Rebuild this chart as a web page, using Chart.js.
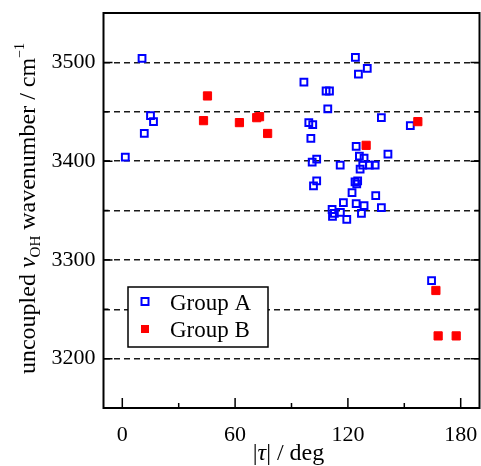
<!DOCTYPE html>
<html>
<head>
<meta charset="utf-8">
<script src="https://cdn.jsdelivr.net/npm/chart.js@4.4.0/dist/chart.umd.min.js"></script>
<style>
html, body { margin: 0; padding: 0; background: #fff; }
</style>
</head>
<body>
<canvas id="chart" width="481" height="466"></canvas>
<script>
// |tau| in degrees and uncoupled OH wavenumber in cm^-1
const groupATau = [10.5, 15, 16.6, 11.7, 1.6, 124, 125.6, 130.3, 96.6, 108.4, 110.2, 109.3, 137.8, 153.2, 99.2,
    101.3, 100.3, 124.4, 141.3, 126.1, 128.6, 103.4, 101, 115.9, 127.9, 131.4, 134.5, 126.5, 103.4, 101.7,
    125.2, 123.8, 124.7, 122.2, 134.8, 117.6, 124.4, 128.6, 137.8, 111.6, 112.8, 111.8, 116, 127.2, 119.4, 164.5];
const groupAFreq = [3504, 3446, 3440, 3428, 3404, 3505, 3488, 3494, 3480, 3471, 3471, 3453, 3444, 3436, 3439,
    3437, 3423, 3415, 3407, 3405, 3403, 3402, 3399, 3396, 3396, 3396, 3396, 3392, 3380, 3375,
    3380, 3379, 3377, 3368, 3365, 3358, 3357, 3355, 3353, 3351, 3347, 3344, 3348, 3347, 3341, 3279];

const groupBTau = [45.3, 43.2, 62.3, 71.5, 73, 77.3, 129.7, 157.2, 166.8, 168, 177.6];
const groupBFreq = [3466, 3441, 3439, 3444, 3445, 3428, 3416, 3440, 3269, 3223, 3223];

const xTickLabels = [0, 60, 120, 180];
const xMinorTicks = [30, 90, 150];
const yTickLabels = [3200, 3300, 3400, 3500];
const yMinorTicks = [3250, 3350, 3450];
const seriesNames = ['Group A', 'Group B'];

const FONT = '"Liberation Serif", "Times New Roman", serif';

const toPoints = (xs, ys) => xs.map((x, i) => ({ x: x, y: ys[i] }));

// draw a run of text pieces [text, style, size, baseline shift] starting at x
function drawRun(ctx, parts, x) {
    parts.forEach((p) => {
        ctx.font = p[1] + p[2] + 'px ' + FONT;
        ctx.fillText(p[0], x, p[3]);
        x += ctx.measureText(p[0]).width;
    });
}
function runWidth(ctx, parts) {
    let w = 0;
    parts.forEach((p) => { ctx.font = p[1] + p[2] + 'px ' + FONT; w += ctx.measureText(p[0]).width; });
    return w;
}

// frame, inward ticks, axis titles and the boxed legend
const decorations = {
    id: 'decorations',
    afterDraw(chart) {
        const { ctx, chartArea: a, scales: { x, y } } = chart;
        ctx.save();
        ctx.strokeStyle = '#000';
        ctx.lineWidth = 2;
        ctx.strokeRect(a.left, a.top, a.right - a.left, a.bottom - a.top);

        ctx.lineWidth = 1.5;
        ctx.beginPath();
        xTickLabels.concat(xMinorTicks).forEach((v) => {
            const len = xTickLabels.includes(v) ? 10 : 5;
            const px = x.getPixelForValue(v);
            ctx.moveTo(px, a.bottom);
            ctx.lineTo(px, a.bottom - len);
        });
        yTickLabels.concat(yMinorTicks).forEach((v) => {
            const len = yTickLabels.includes(v) ? 9 : 5;
            const py = y.getPixelForValue(v);
            ctx.moveTo(a.left, py);
            ctx.lineTo(a.left + len, py);
            ctx.moveTo(a.right, py);
            ctx.lineTo(a.right - len, py);
        });
        ctx.stroke();

        ctx.fillStyle = '#000';
        ctx.textBaseline = 'alphabetic';

        // x title: |tau| / deg
        const xParts = [['|', '', 24, 0], ['\u03C4', 'italic ', 24, 0], ['| / deg', '', 24, 0]];
        ctx.save();
        ctx.translate((a.left + a.right) / 2 - 3, 460);
        drawRun(ctx, xParts, -runWidth(ctx, xParts) / 2);
        ctx.restore();

        // y title: uncoupled nu_OH wavenumber / cm^-1
        const yParts = [
            ['uncoupled ', '', 24, 0],
            ['\u03BD', 'italic ', 24, 0],
            ['OH', '', 15, 5.5],
            [' wavenumber / cm', '', 24, 0],
            ['\u22121', '', 14, -11]
        ];
        ctx.save();
        ctx.translate(34.5, (a.top + a.bottom) / 2 - 2);
        ctx.rotate(-Math.PI / 2);
        drawRun(ctx, yParts, -runWidth(ctx, yParts) / 2);
        ctx.restore();

        // legend
        ctx.fillStyle = '#fff';
        ctx.fillRect(128, 287, 140, 60);
        ctx.lineWidth = 1.5;
        ctx.strokeStyle = '#000';
        ctx.strokeRect(128, 287, 140, 60);
        ctx.strokeStyle = '#0000ff';
        ctx.lineWidth = 2;
        ctx.strokeRect(141.5, 298, 7, 7);
        ctx.fillStyle = '#ff0000';
        ctx.fillRect(141, 325, 8, 8);
        ctx.fillStyle = '#000';
        ctx.font = '23px ' + FONT;
        ctx.fillText(seriesNames[0], 170, 310);
        ctx.fillText(seriesNames[1], 170, 337);
        ctx.restore();
    }
};

new Chart(document.getElementById('chart'), {
    type: 'scatter',
    data: {
        datasets: [
            {
                label: seriesNames[0],
                data: toPoints(groupATau, groupAFreq),
                pointStyle: 'rect',
                pointRadius: 4.8,
                pointHoverRadius: 4.8,
                borderWidth: 2,
                borderColor: '#0000ff',
                backgroundColor: 'rgba(0,0,0,0)',
                order: 1
            },
            {
                label: seriesNames[1],
                data: toPoints(groupBTau, groupBFreq),
                pointStyle: 'rect',
                pointRadius: 5.8,
                pointHoverRadius: 5.8,
                borderWidth: 1,
                borderColor: '#ff0000',
                backgroundColor: '#ff0000',
                order: 0
            }
        ]
    },
    options: {
        responsive: false,
        animation: false,
        devicePixelRatio: 1,
        layout: { autoPadding: false, padding: { top: 13, right: 1.5, left: 0, bottom: 0 } },
        plugins: { legend: { display: false }, tooltip: { enabled: false } },
        scales: {
            x: {
                type: 'linear',
                min: -10,
                max: 190,
                afterBuildTicks: (scale) => { scale.ticks = xTickLabels.map((v) => ({ value: v })); },
                afterFit: (scale) => {
                    scale.height = 58;
                    scale.paddingLeft = 0;
                    scale.paddingRight = 0;
                },
                grid: { display: false },
                border: { display: false },
                ticks: {
                    padding: 6,
                    color: '#000',
                    font: { family: FONT, size: 22 },
                    maxRotation: 0,
                    autoSkip: false
                }
            },
            y: {
                type: 'linear',
                min: 3150,
                max: 3550,
                afterBuildTicks: (scale) => {
                    scale.ticks = yTickLabels.concat(yMinorTicks).sort((p, q) => p - q).map((v) => ({ value: v }));
                },
                afterFit: (scale) => {
                    scale.width = 103.5;
                    scale.paddingTop = 0;
                    scale.paddingBottom = 0;
                },
                grid: { drawTicks: false, lineWidth: 1.5, color: '#1a1a1a' },
                border: { display: false, dash: [6, 4] },
                ticks: {
                    padding: 8,
                    color: '#000',
                    font: { family: FONT, size: 22 },
                    autoSkip: false,
                    callback: (v) => (yTickLabels.includes(v) ? String(v) : '')
                }
            }
        }
    },
    plugins: [decorations]
});
</script>
</body>
</html>
